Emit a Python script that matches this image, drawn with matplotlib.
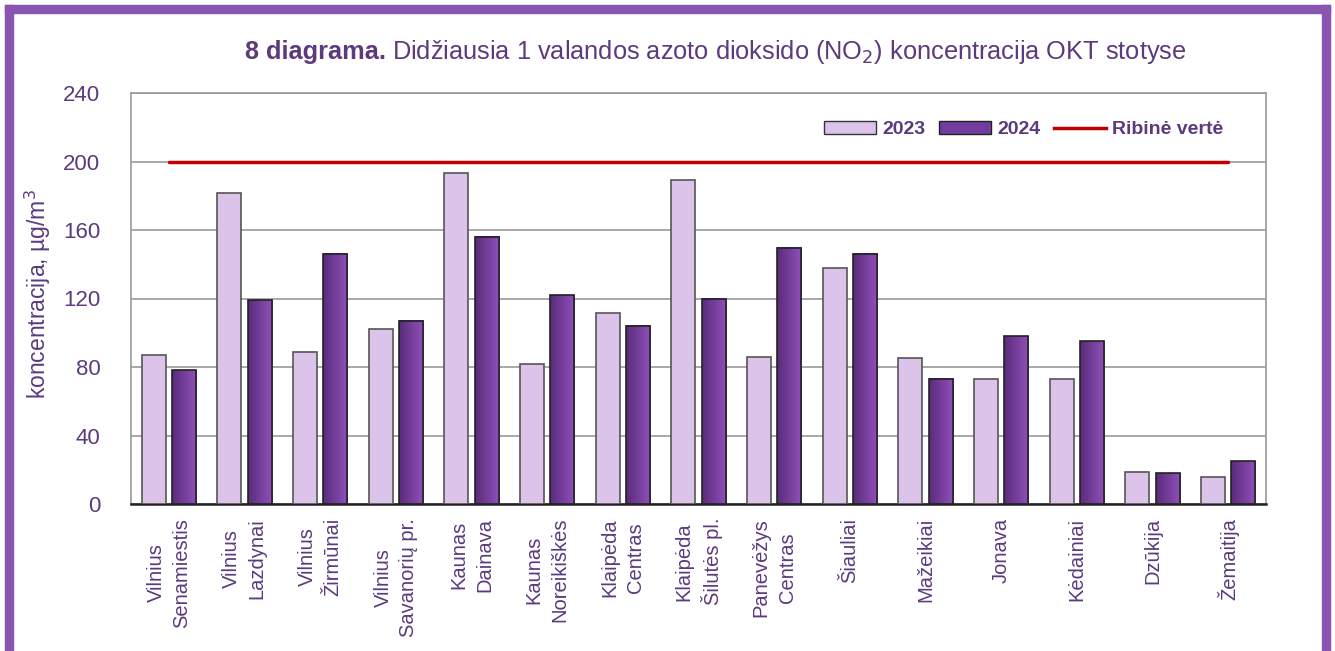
import numpy as np
import matplotlib
matplotlib.use("Agg")
import matplotlib.pyplot as plt
from matplotlib.patches import Rectangle, Patch
from matplotlib.lines import Line2D
from matplotlib.colors import LinearSegmentedColormap

plt.rcParams['font.family'] = ['Liberation Sans', 'DejaVu Sans']

# data
stations = ["Vilnius\nSenamiestis", "Vilnius\nLazdynai", "Vilnius\nŽirmūnai",
            "Vilnius\nSavanorių pr.", "Kaunas\nDainava", "Kaunas\nNoreikiškės",
            "Klaipėda\nCentras", "Klaipėda\nŠilutės pl.", "Panevėžys\nCentras",
            "Šiauliai", "Mažeikiai", "Jonava", "Kėdainiai", "Dzūkija", "Žemaitija"]
values_2023 = [87, 181.5, 89, 102, 193, 82, 111.5, 189, 86, 138, 85, 73, 73, 18.5, 16]
values_2024 = [78, 119, 146, 107, 156, 122, 104, 120, 149.5, 146, 73, 98, 95, 18, 25]
limit_value = 200

text_col = "#5b3a7e"
light_col = "#dcc3ea"
frame_col = "#8a55b0"

fig = plt.figure(figsize=(13.35, 6.51), dpi=100)
ax = fig.add_axes([131 / 1335, 1 - 504 / 651, (1266 - 131) / 1335, (504 - 93) / 651])

x = np.arange(len(stations))
w = 0.32
off = 0.2

ax.bar(x - off, values_2023, w, color=light_col, edgecolor="#555555", linewidth=1.2, zorder=3)

# 2024 bars with a left-to-right gradient
grad = LinearSegmentedColormap.from_list("g", ["#5a2c7b", "#9050bb"])
for xi, v in zip(x + off, values_2024):
    ax.imshow(np.linspace(0, 1, 50).reshape(1, -1), cmap=grad, aspect="auto",
              extent=(xi - w / 2, xi + w / 2, 0, v), zorder=3)
    ax.add_patch(Rectangle((xi - w / 2, 0), w, v, fill=False, edgecolor="#222222",
                           linewidth=1.2, zorder=4))

ax.plot([x[0], x[-1]], [limit_value, limit_value], color="#c00000", linewidth=2.5,
        solid_capstyle="round", zorder=5)

ax.set_xlim(-0.5, len(stations) - 0.5)
ax.set_ylim(0, 240)
ax.set_yticks(np.arange(0, 241, 40))
ax.yaxis.grid(True, color="#999999", linewidth=1.2, zorder=0)
ax.set_axisbelow(True)
ax.tick_params(axis="y", length=0, pad=22, labelsize=16, labelcolor=text_col)
ax.set_xticks(x)
ax.set_xticklabels(stations, rotation=90, ha="center", va="top", multialignment="center",
                   linespacing=1.45, fontsize=14.5, color=text_col)
ax.tick_params(axis="x", length=0, pad=10)
for s in ["left", "right", "top"]:
    ax.spines[s].set_color("#999999")
    ax.spines[s].set_linewidth(1.2)
ax.spines["bottom"].set_color("#222222")
ax.spines["bottom"].set_linewidth(1.8)

fig.text(38 / 1335, 1 - 294 / 651, "koncentracija, µg/m$^3$", rotation=90, ha="center",
         va="center", fontsize=16.5, color=text_col)

t1 = fig.text(245 / 1335, 1 - 52 / 651, "8 diagrama.", fontsize=18.3, fontweight="bold",
              color=text_col, ha="left", va="center")
ax.annotate("Didžiausia 1 valandos azoto dioksido (NO$_2$) koncentracija OKT stotyse",
            xy=(1, 0.5), xycoords=t1, xytext=(4, 0), textcoords="offset points",
            fontsize=18.3, color=text_col, ha="left", va="center", annotation_clip=False)

handles = [Patch(facecolor=light_col, edgecolor="#333333", label="2023"),
           Patch(facecolor="#743ca0", edgecolor="#222222", label="2024"),
           Line2D([0], [0], color="#c00000", linewidth=2.5, label="Ribinė vertė")]
leg = ax.legend(handles=handles, loc="upper right", bbox_to_anchor=(0.978, 0.975), ncol=3,
                frameon=False, handlelength=2.7, handleheight=0.7, columnspacing=0.7,
                handletextpad=0.3, prop={"weight": "bold", "size": 14})
for t in leg.get_texts():
    t.set_color(text_col)

# purple frame around the figure
fig.patches.append(Rectangle((5 / 1335, 1 - 13 / 651), 1325 / 1335, 8 / 651,
                             transform=fig.transFigure, color=frame_col, zorder=10))
fig.patches.append(Rectangle((5 / 1335, 0), 8 / 1335, 1 - 5 / 651,
                             transform=fig.transFigure, color=frame_col, zorder=10))
fig.patches.append(Rectangle((1322 / 1335, 0), 8 / 1335, 1 - 5 / 651,
                             transform=fig.transFigure, color=frame_col, zorder=10))

fig.savefig("out.png", dpi=100)
